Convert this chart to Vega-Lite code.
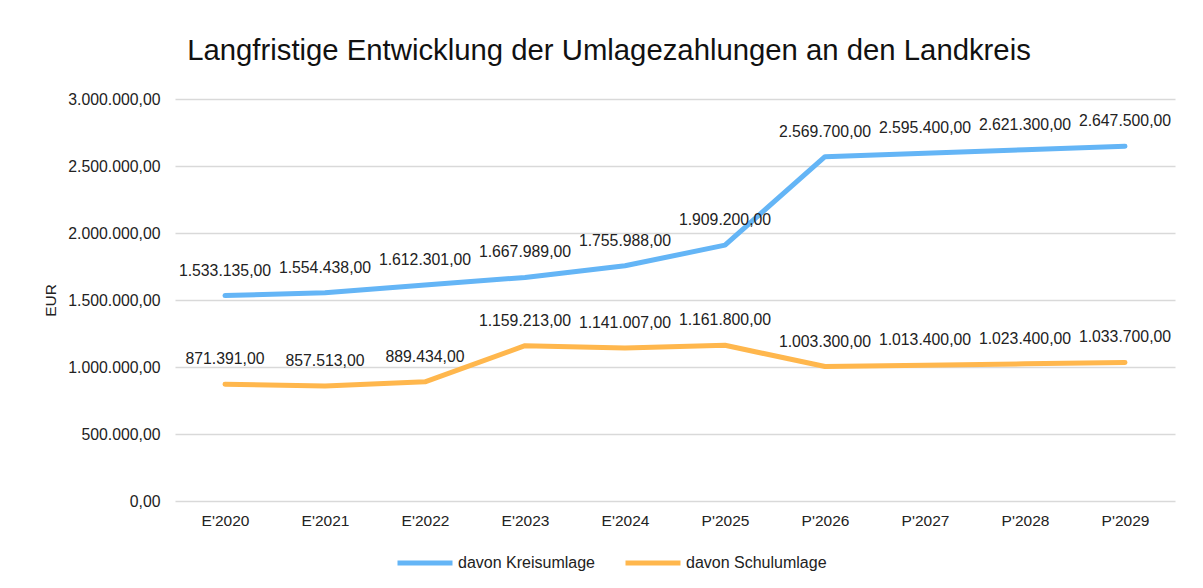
{
  "$schema": "https://vega.github.io/schema/vega-lite/v6.json",
  "width": 1000,
  "height": 402,
  "autosize": {"type": "none"},
  "padding": {"left": 175, "top": 99, "right": 28, "bottom": 87},
  "background": "white",
  "config": {
    "font": "Liberation Sans",
    "view": {"stroke": null},
    "locale": {"number": {"decimal": ",", "thousands": ".", "grouping": [3], "currency": ["", " €"]}}
  },
  "title": {
    "text": "Langfristige Entwicklung der Umlagezahlungen an den Landkreis",
    "anchor": "middle",
    "frame": "group",
    "fontSize": 29.3,
    "fontWeight": "normal",
    "color": "#111",
    "dx": -66,
    "offset": 25
  },
  "data": {
    "values": [
      {"jahr": "E'2020", "serie": "davon Kreisumlage", "wert": 1533135},
      {"jahr": "E'2021", "serie": "davon Kreisumlage", "wert": 1554438},
      {"jahr": "E'2022", "serie": "davon Kreisumlage", "wert": 1612301},
      {"jahr": "E'2023", "serie": "davon Kreisumlage", "wert": 1667989},
      {"jahr": "E'2024", "serie": "davon Kreisumlage", "wert": 1755988},
      {"jahr": "P'2025", "serie": "davon Kreisumlage", "wert": 1909200},
      {"jahr": "P'2026", "serie": "davon Kreisumlage", "wert": 2569700},
      {"jahr": "P'2027", "serie": "davon Kreisumlage", "wert": 2595400},
      {"jahr": "P'2028", "serie": "davon Kreisumlage", "wert": 2621300},
      {"jahr": "P'2029", "serie": "davon Kreisumlage", "wert": 2647500},
      {"jahr": "E'2020", "serie": "davon Schulumlage", "wert": 871391},
      {"jahr": "E'2021", "serie": "davon Schulumlage", "wert": 857513},
      {"jahr": "E'2022", "serie": "davon Schulumlage", "wert": 889434},
      {"jahr": "E'2023", "serie": "davon Schulumlage", "wert": 1159213},
      {"jahr": "E'2024", "serie": "davon Schulumlage", "wert": 1141007},
      {"jahr": "P'2025", "serie": "davon Schulumlage", "wert": 1161800},
      {"jahr": "P'2026", "serie": "davon Schulumlage", "wert": 1003300},
      {"jahr": "P'2027", "serie": "davon Schulumlage", "wert": 1013400},
      {"jahr": "P'2028", "serie": "davon Schulumlage", "wert": 1023400},
      {"jahr": "P'2029", "serie": "davon Schulumlage", "wert": 1033700}
    ]
  },
  "encoding": {
    "x": {
      "field": "jahr",
      "type": "nominal",
      "sort": null,
      "scale": {"padding": 0.5},
      "axis": {
        "title": null,
        "labelAngle": 0,
        "labelFontSize": 15.5,
        "labelColor": "#222",
        "labelPadding": 12,
        "ticks": false,
        "domain": false,
        "grid": false
      }
    },
    "y": {
      "field": "wert",
      "type": "quantitative",
      "scale": {"domain": [0, 3000000]},
      "axis": {
        "title": "EUR",
        "titleFontSize": 15.5,
        "titleFontWeight": "normal",
        "titleColor": "#222",
        "titleAngle": -90,
        "titleX": -125,
        "titleY": 201,
        "titleAlign": "center",
        "titleBaseline": "middle",
        "values": [0, 500000, 1000000, 1500000, 2000000, 2500000, 3000000],
        "format": ",.2f",
        "labelFontSize": 15.8,
        "labelColor": "#222",
        "labelPadding": 15,
        "ticks": false,
        "domain": false,
        "grid": true,
        "gridColor": "#d9d9d9",
        "gridWidth": 1.5
      }
    }
  },
  "layer": [
    {
      "mark": {"type": "line", "strokeWidth": 5, "interpolate": "linear", "strokeCap": "round", "strokeJoin": "round"},
      "encoding": {
        "color": {
          "field": "serie",
          "type": "nominal",
          "scale": {"domain": ["davon Kreisumlage", "davon Schulumlage"], "range": ["#64B5F6", "#FFB74D"]},
          "legend": {
            "title": null,
            "orient": "none",
            "direction": "horizontal",
            "legendX": 220,
            "legendY": 434,
            "symbolType": "stroke",
            "symbolSize": 3025,
            "symbolStrokeWidth": 5,
            "labelFontSize": 16,
            "labelColor": "#222",
            "labelOffset": 3,
            "columnPadding": 20
          }
        }
      }
    },
    {
      "mark": {"type": "text", "baseline": "middle", "dy": -25, "fontSize": 15.8, "color": "#222"},
      "encoding": {
        "text": {"field": "wert", "type": "quantitative", "format": ",.2f"}
      }
    }
  ]
}
